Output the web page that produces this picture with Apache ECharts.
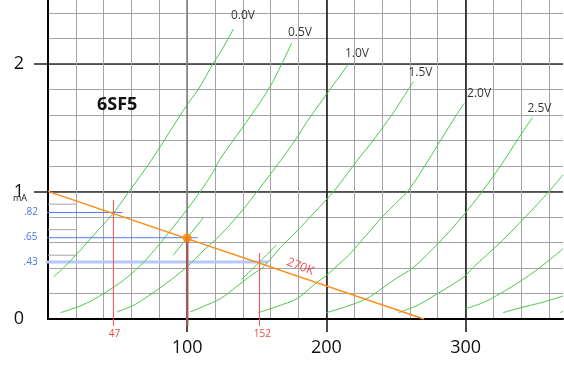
<!DOCTYPE html>
<html><head><meta charset="utf-8">
<script src="https://cdn.jsdelivr.net/npm/echarts@6/dist/echarts.min.js"></script>
<style>html,body{margin:0;padding:0;background:#fff}#c{width:564px;height:369px}</style>
</head><body><div id="c"></div>
<script>
// ---- data: plate voltage (V), plate current (mA) ----
const curve00 = [[4,0.33],[12,0.41],[20,0.5],[33,0.66],[47,0.83],[59,1.01],[74,1.24],[87,1.46],[100,1.68],[108,1.8],[118.5,2.0],[126,2.13],[133,2.27]];
const curve05 = [[9,0.05],[25,0.11],[40,0.2],[55,0.31],[70,0.46],[87,0.68],[100,0.86],[112,1.04],[119,1.16],[124,1.26],[139,1.49],[150,1.66],[159,1.81],[168,2.0],[175,2.16]];
const curve10 = [[49.5,0.055],[62,0.11],[72,0.18],[85,0.28],[100,0.41],[112,0.54],[124,0.66],[138,0.83],[151,1.01],[167,1.24],[177.5,1.40],[187,1.56],[200,1.76],[216,2.0]];
const curve15 = [[102,0.055],[112,0.1],[124,0.16],[135,0.25],[147,0.35],[155,0.41],[167,0.56],[178,0.68],[191,0.83],[206,1.01],[222,1.24],[235,1.42],[247,1.6],[259,1.8],[262.5,1.86]];
const curve20 = [[151,0.05],[165,0.1],[179,0.16],[193,0.285],[200,0.34],[206,0.40],[216,0.5],[225,0.61],[241,0.81],[259,1.01],[273,1.24],[282,1.40],[293.5,1.6],[299,1.69]];
const curve25 = [[200,0.05],[215,0.1],[229,0.16],[240,0.24],[249,0.31],[262,0.40],[281,0.60],[297.5,0.80],[312,1.0],[327,1.23],[337,1.40],[348,1.58]];
const curveE1 = [[252,0.05],[266,0.11],[280,0.2],[292,0.28],[300,0.34],[305,0.4],[325,0.6],[343,0.8],[360,1.0],[370,1.13]];
const curveE2 = [[300,0.08],[313,0.13],[325,0.2],[340,0.3],[353,0.4],[370,0.55]];
const curveE3 = [[327,0.05],[340,0.09],[355,0.13],[370,0.18]];
const curveE4 = [[368,0.05],[370,0.06]];
const segA = [[90,0.50],[100,0.635],[112,0.80]];
const segB = [[139,0.31],[152,0.447],[164,0.58]];
const loadLine = [[0,1],[270,0]];
const opPoint = [100,0.635];
const blue82 = [[-7,0.835],[53.5,0.835]];
const blue65 = [[-7,0.637],[107.5,0.637]];
const blue43 = [[-7,0.447],[158,0.447]];
const red47 = [[47,0.933],[47,-0.055]];
const red152 = [[152,0.517],[152,-0.055]];
const brown100 = [[100,0.635],[100,-0.055]];
const fine09 = [[0,0.9],[20,0.9]];
const fine07 = [[0,0.7],[20,0.7]];
const fine05 = [[0,0.5],[20,0.5]];
const curveLabels = ['0.0V','0.5V','1.0V','1.5V','2.0V','2.5V'];
const curveLabelPos = [[140.1,2.375],[181,2.245],[222,2.081],[267.6,1.928],[309.7,1.763],[353.1,1.648]];
const xTickLabels = [100,200,300];
const yTickLabels = [0,1,2];
const loadLabel = ['270K',[181.3,0.41]];
const redLabels = [['47',[47.8,-0.12]],['152',[154,-0.12]]];
const blueLabels = [['.82',[-12.2,0.837]],['.65',[-12.6,0.64]],['.43',[-12.5,0.447]]];

const FONT = 'Open Sans';
const GREEN = '#4cc84c';
function curve(d){return {type:'line',data:d,symbol:'none',smooth:0.3,lineStyle:{color:GREEN,width:1},silent:true,z:3};}
function seg(d,color,width,z){return {type:'line',data:d,symbol:'none',clip:false,lineStyle:{color:color,width:width},silent:true,z:z||4};}
function textPts(items,style){
  return {type:'scatter',symbol:'circle',symbolSize:1,itemStyle:{color:'rgba(0,0,0,0)'},silent:true,z:10,clip:false,
    data:items.map(function(t){return {value:t[1],label:Object.assign({show:true,position:'inside',formatter:t[0]},style)};})};
}
const hidden = {axisLine:{show:false},axisTick:{show:false},axisLabel:{show:false}};

const chart = echarts.init(document.getElementById('c'),null,{renderer:'canvas'});
chart.setOption({
  animation:false,
  backgroundColor:'#fff',
  title:{text:'6SF5',left:97,top:96,padding:0,textStyle:{fontFamily:FONT,fontSize:18,fontWeight:'bold',color:'#111'}},
  grid:{left:48,top:0,width:515,height:319,containLabel:false},
  xAxis:[
    Object.assign({type:'value',min:0,max:370,interval:20,
      splitLine:{show:true,showMinLine:false,showMaxLine:false,lineStyle:{color:'#a4a4a4',width:1}}},hidden),
    Object.assign({type:'value',min:0,max:370,interval:100,
      splitLine:{show:true,showMinLine:false,showMaxLine:false,lineStyle:{color:['#7a7a7a','#111','#111'],width:1.5}}},hidden),
    {type:'value',min:0,max:370,interval:100,position:'bottom',
      axisLine:{show:true,lineStyle:{color:'#000',width:2}},
      axisTick:{show:true,length:13,customValues:xTickLabels,lineStyle:{color:'#111',width:1.5}},
      axisLabel:{customValues:xTickLabels,margin:20,fontSize:18,fontFamily:FONT,color:'#111'},
      splitLine:{show:false}}
  ],
  yAxis:[
    Object.assign({type:'value',min:0,max:2.5,interval:0.2,
      splitLine:{show:true,showMinLine:false,showMaxLine:false,lineStyle:{color:'#a4a4a4',width:1}}},hidden),
    Object.assign({type:'value',min:0,max:2.5,interval:1,
      splitLine:{show:true,showMinLine:false,showMaxLine:false,lineStyle:{color:'#333',width:1.5}}},hidden),
    {type:'value',min:0,max:2.5,interval:1,position:'left',
      axisLine:{show:true,lineStyle:{color:'#000',width:2}},
      axisTick:{show:true,length:14,customValues:[1,2],lineStyle:{color:'#222',width:1.5}},
      axisLabel:{customValues:yTickLabels,margin:24,fontSize:18,fontFamily:FONT,color:'#111',padding:[0,0,6,0]},
      splitLine:{show:false}}
  ],
  graphic:[{type:'text',left:13,top:194,style:{text:'mA',font:'9px "Open Sans"',fill:'#111'}}],
  series:[
    seg(fine09,'#a4a4a4',1,2),seg(fine07,'#a4a4a4',1,2),seg(fine05,'#a4a4a4',1,2),
    seg(blue43,'#b6c8f7',3,2),
    curve(curve00),curve(curve05),curve(curve10),curve(curve15),curve(curve20),curve(curve25),
    curve(curveE1),curve(curveE2),curve(curveE3),curve(curveE4),
    curve(segA),curve(segB),
    seg(blue82,'#4f7ff0',1,4),seg(blue65,'#4f7ff0',1,4),
    seg(red47,'#ff4a4a',1,4),seg(red152,'#ff4a4a',1,4),
    seg(brown100,'#a05858',2.5,4),
    seg(loadLine,'#ff8c1a',1.5,5),
    {type:'scatter',data:[opPoint],symbol:'circle',symbolSize:9,itemStyle:{color:'#ff8000'},silent:true,z:6},
    textPts(curveLabels.map(function(t,i){return [t,curveLabelPos[i]];}),{fontFamily:FONT,fontSize:12,color:'#000'}),
    textPts([loadLabel],{fontFamily:FONT,fontSize:12,color:'#e8141e',rotate:-22}),
    textPts(redLabels,{fontFamily:FONT,fontSize:10,color:'#e01818'}),
    textPts(blueLabels,{fontFamily:FONT,fontSize:10,color:'#1c4fe6'})
  ]
});
</script></body></html>
